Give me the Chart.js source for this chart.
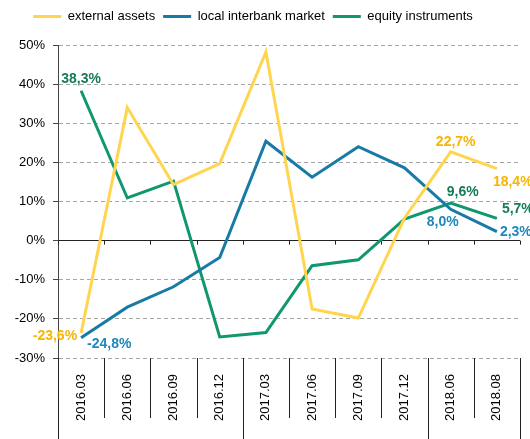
<!DOCTYPE html>
<html>
<head>
<meta charset="utf-8">
<script src="https://cdn.jsdelivr.net/npm/chart.js@4"></script>
<style>
html,body{margin:0;padding:0;background:#fff;}
#wrap{width:530px;height:439px;position:relative;}
</style>
</head>
<body>
<div id="wrap"><canvas id="c" width="530" height="439"></canvas></div>
<script>
// ---- data ----
const categories = ['2016.03','2016.06','2016.09','2016.12','2017.03','2017.06','2017.09','2017.12','2018.06','2018.08'];
const externalAssets = [-23.6, 34.0, 14.3, 19.7, 48.2, -17.5, -19.8, 5.8, 22.7, 18.4];
const localInterbank = [-24.8, -17.0, -11.8, -4.3, 25.4, 16.2, 24.0, 18.6, 8.0, 2.3];
const equityInstruments = [38.3, 10.9, 15.2, -24.6, -23.5, -6.4, -4.9, 5.5, 9.6, 5.7];
const seriesNames = ['external assets', 'local interbank market', 'equity instruments'];
const yMin = -30, yMax = 50, yStep = 10;
// points that carry a value label: [series index, point index]
const labeledPoints = [[0,0],[1,0],[2,0],[0,8],[0,9],[2,8],[2,9],[1,8],[1,9]];

// ---- styles ----
const lineColors = ['#FFD54F', '#177BA6', '#10976F'];
const labelColors = ['#F7B500', '#1E88BD', '#16795A'];
const labelStyle = {
  '0,0': {align:'right', dx:-4, dy:3},
  '1,0': {align:'left', dx:6, dy:6},
  '2,0': {align:'center', dx:0, dy:-12},
  '0,8': {align:'center', dx:5, dy:-10},
  '0,9': {align:'left', dx:-4, dy:14},
  '2,8': {align:'center', dx:12, dy:-11},
  '2,9': {align:'left', dx:5, dy:-9},
  '1,8': {align:'center', dx:-8, dy:13},
  '1,9': {align:'left', dx:3, dy:1}
};
const FONT = "'Liberation Sans', Arial, Helvetica, sans-serif";
Chart.defaults.font.family = FONT;
Chart.defaults.color = '#000';

const fmt = v => v.toFixed(1).replace('.', ',') + '%';

const decorPlugin = {
  id: 'decor',
  beforeInit(chart) {
    const lg = chart.legend;
    if (lg) {
      const origFit = lg.fit.bind(lg);
      lg.fit = function () { origFit(); this.height += 12; };
    }
  },
  afterLayout(chart) {
    chart.legend.left -= 7;
    chart.legend.right -= 7;
  },
  beforeDatasetsDraw(chart) {
    const {ctx, chartArea, scales:{x, y}} = chart;
    const half = (x.getPixelForValue(1) - x.getPixelForValue(0)) / 2;
    const bounds = [];
    for (let k = 0; k < categories.length; k++) bounds.push(x.getPixelForValue(k) - half);
    bounds.push(x.getPixelForValue(categories.length - 1) + half);
    const y0 = y.getPixelForValue(0);
    ctx.save();
    ctx.strokeStyle = '#222';
    ctx.lineWidth = 1;
    // ticks on zero line
    bounds.forEach(b => {
      const bx = Math.round(b) + 0.5;
      ctx.beginPath(); ctx.moveTo(bx, y0); ctx.lineTo(bx, y0 + 4); ctx.stroke();
    });
    // separators below the plot
    bounds.forEach((b, k) => {
      const isGroup = k === 0 || k === categories.length ||
        categories[k].slice(0, 4) !== categories[k - 1].slice(0, 4);
      const bx = Math.round(b) + 0.5;
      ctx.beginPath();
      ctx.moveTo(bx, chartArea.bottom);
      ctx.lineTo(bx, isGroup ? chart.height : chartArea.bottom + 60);
      ctx.stroke();
    });
    ctx.restore();
  },
  afterDatasetsDraw(chart) {
    const {ctx} = chart;
    ctx.save();
    ctx.font = 'bold 14px ' + FONT;
    ctx.textBaseline = 'middle';
    labeledPoints.forEach(([s, i]) => {
      const pt = chart.getDatasetMeta(s).data[i];
      const st = labelStyle[s + ',' + i];
      ctx.fillStyle = labelColors[s];
      ctx.textAlign = st.align;
      ctx.fillText(fmt(chart.data.datasets[s].data[i]), pt.x + st.dx, pt.y + st.dy);
    });
    ctx.restore();
  }
};

const allSeries = [externalAssets, localInterbank, equityInstruments];
new Chart(document.getElementById('c'), {
  type: 'line',
  data: {
    labels: categories,
    datasets: allSeries.map((d, s) => ({
      label: seriesNames[s],
      data: d,
      borderColor: lineColors[s],
      backgroundColor: lineColors[s],
      borderWidth: 3,
      pointRadius: 0,
      tension: 0
    }))
  },
  options: {
    responsive: false,
    animation: false,
    devicePixelRatio: 1,
    layout: { padding: { top: 2, right: 10, left: 0, bottom: 0 } },
    plugins: {
      tooltip: { enabled: false },
      legend: {
        position: 'top',
        labels: {
          boxWidth: 28,
          boxHeight: 3,
          padding: 8,
          color: '#000',
          font: { size: 13 },
          generateLabels(chart) {
            return chart.data.datasets.map((ds, i) => ({
              text: ds.label,
              fillStyle: ds.borderColor,
              strokeStyle: ds.borderColor,
              lineWidth: 0,
              hidden: false,
              datasetIndex: i
            }));
          }
        }
      }
    },
    scales: {
      x: {
        type: 'category',
        offset: true,
        grid: { display: false },
        border: { display: false },
        ticks: {
          autoSkip: false,
          minRotation: 90,
          maxRotation: 90,
          padding: 8,
          color: '#000',
          font: { size: 13 }
        },
        afterFit(scale) { scale.height = 81; }
      },
      y: {
        min: yMin,
        max: yMax,
        ticks: {
          stepSize: yStep,
          padding: 8,
          color: '#000',
          font: { size: 13 },
          callback: v => v + '%'
        },
        grid: {
          color: ctx => (ctx.tick && ctx.tick.value === 0) ? '#222' : '#A6A6A6',
          lineWidth: 1,
          tickLength: 5,
          tickColor: '#444',
          tickBorderDash: []
        },
        border: {
          display: true,
          color: '#444',
          width: 1,
          dash: ctx => (ctx.tick && ctx.tick.value === 0) ? [] : [4, 3]
        },
        afterFit(scale) { scale.width = 58; }
      }
    }
  },
  plugins: [decorPlugin]
});
</script>
</body>
</html>
